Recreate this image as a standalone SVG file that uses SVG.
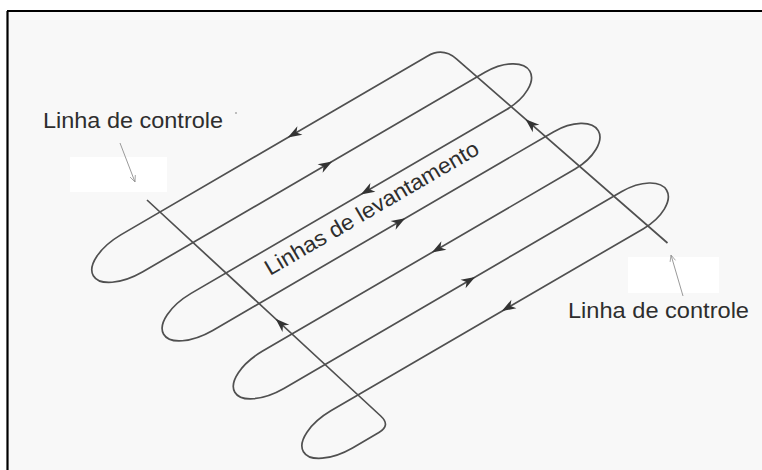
<svg xmlns="http://www.w3.org/2000/svg" width="762" height="470" viewBox="0 0 762 470">
  <style>
    .route { fill: none; stroke: #505050; stroke-width: 1.7; stroke-linejoin: round; }
    .ah { fill: #333333; }
    .lbl { font-family: "Liberation Sans", Arial, sans-serif; font-size: 22px; fill: #2e2e2e; }
    .ptr { fill: none; stroke: #9a9a9a; stroke-width: 1; }
  </style>
  <defs>
    <path id="ah" d="M0,0 L-14,-5 L-10,0 L-14,5 Z"/>
    <marker id="open" viewBox="0 0 10 10" refX="9" refY="5" markerWidth="8" markerHeight="8" orient="auto" markerUnits="userSpaceOnUse">
      <path d="M1,1.5 L9,5 L1,8.5" fill="none" stroke="#9a9a9a" stroke-width="1"/>
    </marker>
  </defs>

  <g id="background">
    <rect x="0" y="0" width="762" height="470" fill="#ffffff"/>
    <rect x="7" y="11" width="755" height="459" fill="#f8f8f8"/>
    <rect x="70" y="157" width="97" height="35" fill="#ffffff"/>
    <rect x="628" y="257" width="91" height="36" fill="#ffffff"/>
    <path d="M7,11 H762 M7.5,11 V470" fill="none" stroke="#000000" stroke-width="2.2"/>
  </g>

  <g id="connectors">
    <path id="flight-path" class="route" d="M667.5,243 L456.4,58.9 Q442.8,47.1 427.25,56.17 L120.75,234.88 A45,21.5 -30.25 0 0 142.41,272.02 L485,72.32 A40,21.5 -30.25 0 1 506.66,109.46 L191.07,293.36 A45,21.5 -30.25 0 0 212.73,330.5 L553.4,131.92 A40,21.5 -30.25 0 1 575.06,169.06 L262.25,351.34 A45,21.5 -30.25 0 0 283.91,388.48 L621.8,191.52 A40,21.5 -30.25 0 1 643.46,228.66 L330.85,410.82 A45,21.5 -30.25 0 0 352.51,447.96 L378.91,432.55 Q391,425.5 380.72,416 L147,200"/>
    <g id="direction-arrows" class="ah">
      <use href="#ah" transform="translate(287.8,137.5) rotate(149.75)"/>
      <use href="#ah" transform="translate(332.2,161.4) rotate(-30.25)"/>
      <use href="#ah" transform="translate(360.8,194.4) rotate(149.75)"/>
      <use href="#ah" transform="translate(405.2,218.3) rotate(-30.25)"/>
      <use href="#ah" transform="translate(431.8,252.5) rotate(149.75)"/>
      <use href="#ah" transform="translate(475.2,277) rotate(-30.25)"/>
      <use href="#ah" transform="translate(501.8,311.1) rotate(149.75)"/>
      <use href="#ah" transform="translate(275.6,318.8) rotate(-137.26)"/>
      <use href="#ah" transform="translate(525.5,119.3) rotate(-138.94)"/>
    </g>
    <line id="pointer-top" class="ptr" x1="120" y1="143" x2="135" y2="182" marker-end="url(#open)"/>
    <line id="pointer-bottom" class="ptr" x1="683" y1="296" x2="671" y2="255" marker-end="url(#open)"/>
  </g>

  <g id="label-control-top">
    <text class="lbl" x="43" y="128" textLength="180" lengthAdjust="spacingAndGlyphs">Linha de controle</text>
    <circle cx="236" cy="113" r="1.1" fill="#b0b0b0"/>
  </g>
  <g id="label-control-bottom">
    <text class="lbl" x="568" y="318" textLength="181" lengthAdjust="spacingAndGlyphs">Linha de controle</text>
  </g>
  <g id="label-survey-lines">
    <text class="lbl" transform="translate(270,276) rotate(-30.25)" x="0" y="0" textLength="244" lengthAdjust="spacingAndGlyphs">Linhas de levantamento</text>
  </g>
</svg>
